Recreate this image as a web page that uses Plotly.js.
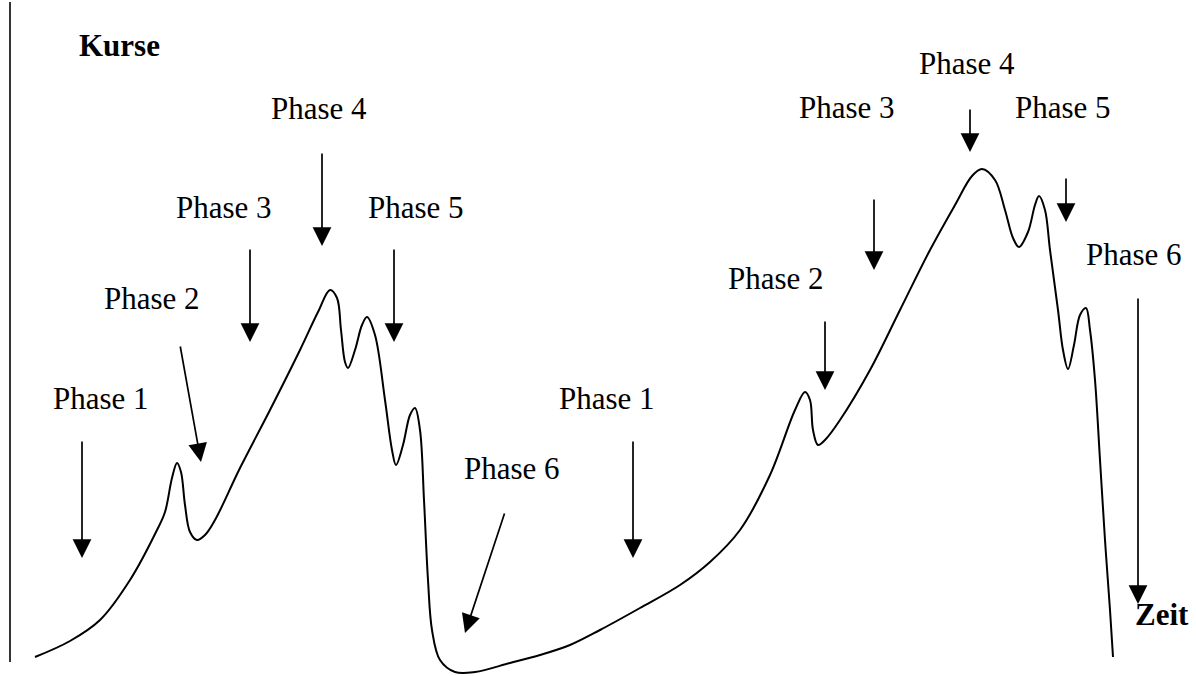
<!DOCTYPE html>
<html>
<head>
<meta charset="utf-8">
<script src="https://cdn.plot.ly/plotly-3.0.1.min.js"></script>
<style>
  html, body { margin: 0; padding: 0; background: #fff; }
  #chart { width: 1196px; height: 676px; }
</style>
</head>
<body>
<div id="chart"></div>
<script>
// Price curve (x = time, y = price, in picture units, y grows downward)
const curveX = [35, 70, 100, 130, 157, 165, 172, 177, 181, 185, 190, 197, 205, 215, 240, 270, 300, 318, 330, 337, 341, 345, 348, 355, 362, 367, 375, 385, 392, 396, 403, 410, 415, 420, 424, 428, 432, 440, 455, 475, 510, 540, 570, 600, 640, 680, 710, 740, 770, 795, 805, 810, 813, 818, 825, 840, 870, 900, 930, 955, 972, 982, 995, 1005, 1013, 1019, 1028, 1035, 1039, 1045, 1050, 1058, 1063, 1068, 1074, 1080, 1086, 1090, 1095, 1100, 1105, 1110, 1113];
const curveY = [657, 641, 620, 580, 530, 512, 478, 463, 472, 505, 532, 540, 535, 520, 468, 410, 350, 312, 290, 298, 330, 362, 368, 350, 325, 317, 335, 400, 450, 465, 445, 415, 408, 430, 500, 580, 630, 660, 672, 672, 663, 655, 645, 630, 608, 585, 562, 530, 475, 410, 392, 400, 430, 445, 440, 420, 370, 310, 250, 205, 176, 169, 180, 210, 238, 247, 232, 205, 196, 210, 250, 310, 350, 369, 345, 315, 308, 330, 380, 460, 540, 610, 657];

// Phase labels
const phaseLabels = ['Phase 1', 'Phase 2', 'Phase 3', 'Phase 4', 'Phase 5', 'Phase 6',
                     'Phase 1', 'Phase 2', 'Phase 3', 'Phase 4', 'Phase 5', 'Phase 6'];
const axisLabels = ['Kurse', 'Zeit'];

// label positions [x, y]
const labelPos = [[101, 398], [152, 298], [224, 207], [319, 108], [416, 207], [512, 468],
                  [607, 398], [776, 278], [847, 107], [967, 63], [1063, 107], [1134, 254]];
// arrows [tailX, tailY, headX, headY]
const arrowPos = [[82, 440, 82, 558], [180, 345, 201, 462], [250, 248, 250, 342], [322, 152, 322, 246],
                  [394, 248, 394, 342], [505, 512, 465, 633], [633, 440, 633, 558], [825, 320, 825, 390],
                  [874, 198, 874, 270], [970, 108, 970, 152], [1066, 177, 1066, 222], [1138, 297, 1138, 604]];
const axisLabelPos = [[119, 45], [1162, 614]];

const serif = 'Liberation Serif, Times New Roman, serif';

const annotations = [];
phaseLabels.forEach((t, i) => {
    annotations.push({
        x: labelPos[i][0], y: labelPos[i][1], xref: 'x', yref: 'y',
        text: t, showarrow: false,
        font: { family: serif, size: 31, color: '#000' }
    });
});
arrowPos.forEach(a => {
    annotations.push({
        x: a[2], y: a[3], ax: a[0], ay: a[1],
        xref: 'x', yref: 'y', axref: 'x', ayref: 'y',
        text: '', showarrow: true,
        arrowhead: 2, arrowsize: 2.2, arrowwidth: 1.7, arrowcolor: '#000',
        standoff: 0, startstandoff: 0
    });
});
axisLabels.forEach((t, i) => {
    annotations.push({
        x: axisLabelPos[i][0], y: axisLabelPos[i][1], xref: 'x', yref: 'y',
        text: '<b>' + t + '</b>', showarrow: false,
        font: { family: serif, size: 31, color: '#000' }
    });
});

const trace = {
    x: curveX,
    y: curveY,
    mode: 'lines',
    type: 'scatter',
    line: { color: '#000', width: 2, shape: 'spline', smoothing: 1 },
    hoverinfo: 'skip'
};

const layout = {
    width: 1196,
    height: 676,
    margin: { l: 0, r: 0, t: 0, b: 0 },
    paper_bgcolor: '#fff',
    plot_bgcolor: '#fff',
    showlegend: false,
    xaxis: { range: [0, 1196], visible: false, fixedrange: true },
    yaxis: { range: [676, 0], visible: false, fixedrange: true },
    shapes: [{
        type: 'line', xref: 'x', yref: 'y',
        x0: 10, x1: 10, y0: 2, y1: 662,
        line: { color: '#000', width: 1.6 }
    }],
    annotations: annotations
};

Plotly.newPlot('chart', [trace], layout, { displayModeBar: false, staticPlot: true });
</script>
</body>
</html>
